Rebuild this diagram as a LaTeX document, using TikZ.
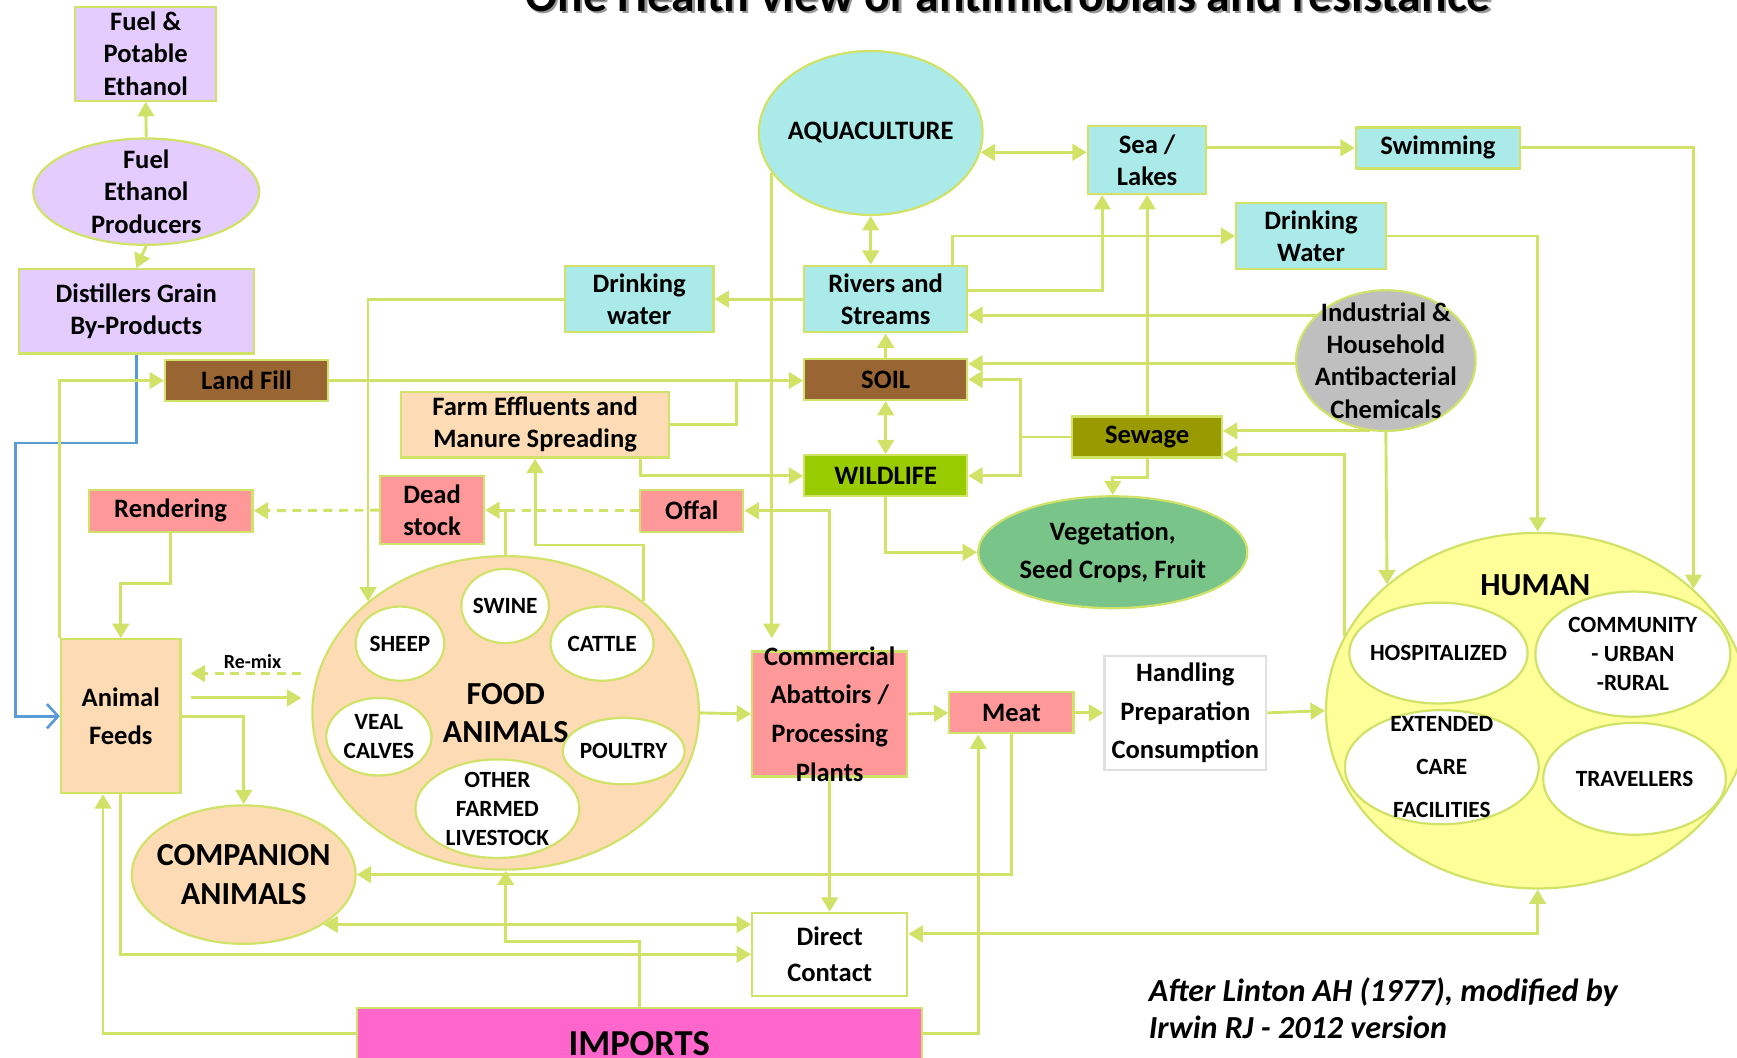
\documentclass[tikz,border=0pt]{standalone}
\usepackage{fontspec}
\setmainfont{Carlito}
\usetikzlibrary{arrows.meta,shapes.geometric}
\definecolor{lnk}{RGB}{209,226,105}
\definecolor{lav}{RGB}{229,204,255}
\definecolor{aquac}{RGB}{170,234,232}
\definecolor{soilc}{RGB}{153,102,51}
\definecolor{peach}{RGB}{253,219,180}
\definecolor{rosy}{RGB}{255,153,153}
\definecolor{olivec}{RGB}{153,153,0}
\definecolor{wildc}{RGB}{153,204,0}
\definecolor{vegc}{RGB}{121,197,137}
\definecolor{chem}{RGB}{191,191,191}
\definecolor{humc}{RGB}{255,255,153}
\definecolor{impc}{RGB}{255,102,204}
\definecolor{feedln}{RGB}{91,155,213}
\newcommand\fsz[2]{\bfseries\fontsize{#1}{#2}\selectfont}
\begin{document}
\begin{tikzpicture}[x=0.5pt,y=-0.5pt,
  box/.style={draw=lnk, line width=1pt, align=center, inner sep=-15pt, font=\fsz{12}{14.5}},
  oval/.style={box, ellipse},
  sub/.style={oval, fill=white, font=\fsz{10.5}{13}},
  link/.style={draw=lnk, line width=1.3pt, -{Triangle[length=6.5pt,width=7.5pt]}},
  both/.style={link, {Triangle[length=6.5pt,width=7.5pt]}-{Triangle[length=6.5pt,width=7.5pt]}},
  dlink/.style={link, dash pattern=on 4pt off 3pt},
  joint/.style={draw=lnk, line width=1.3pt},
  feedline/.style={draw=feedln, line width=1.2pt, -{Straight Barb[length=5pt,width=11pt]}}]
\useasboundingbox (0,0) rectangle (1568,955);
\clip (0,0) rectangle (1568,955);
\node[anchor=base, font=\fsz{21.5}{24}, text=black!40] (tshadow) at (912,12) {One Health view of antimicrobials and resistance};
\node[anchor=base, font=\fsz{21.5}{24}] (title) at (910,10) {One Health view of antimicrobials and resistance};
\node[box, fill=lav, minimum width=63.5pt, minimum height=42.5pt] (fuel) at (131.5,48.5) {Fuel \&\\Potable\\Ethanol};
\node[oval, fill=lav, minimum width=102pt, minimum height=48pt] (feth) at (132,173) {Fuel\\Ethanol\\Producers};
\node[box, fill=lav, minimum width=106pt, minimum height=38pt] (dist) at (123,281) {Distillers Grain\\By-Products};
\node[box, fill=soilc, minimum width=73.5pt, minimum height=18.5pt] (landfill) at (222.5,343.5) {Land Fill};
\node[box, fill=peach, minimum width=121pt, minimum height=29.5pt] (farm) at (483,383.5) {Farm Effluents and\\Manure Spreading};
\node[box, fill=aquac, minimum width=67pt, minimum height=30pt] (dwl) at (577,270) {Drinking\\water};
\node[oval, fill=aquac, minimum width=101pt, minimum height=74pt] (aqc) at (786,120) {AQUACULTURE};
\node[box, fill=aquac, minimum width=53.5pt, minimum height=30.5pt] (sea) at (1035.5,144.5) {Sea /\\Lakes};
\node[box, fill=aquac, minimum width=74pt, minimum height=18.5pt] (swim) at (1298,133.5) {Swimming};
\node[box, fill=aquac, minimum width=67.5pt, minimum height=30pt] (dwr) at (1183.5,213) {Drinking\\Water};
\node[box, fill=aquac, minimum width=73.5pt, minimum height=30pt] (riv) at (799.5,270) {Rivers and\\Streams};
\node[box, fill=soilc, minimum width=73.5pt, minimum height=18.5pt] (soil) at (799.5,342.5) {SOIL};
\node[oval, fill=chem, minimum width=81pt, minimum height=63.5pt] (ind) at (1251,325.5) {Industrial \&\\Household\\Antibacterial\\Chemicals};
\node[box, fill=olivec, minimum width=67.5pt, minimum height=18.5pt] (sew) at (1035.5,394.5) {Sewage};
\node[box, fill=wildc, minimum width=73.5pt, minimum height=18.5pt] (wild) at (799.5,429.5) {WILDLIFE};
\node[box, fill=rosy, minimum width=74pt, minimum height=19pt] (rend) at (154,461) {Rendering};
\node[box, fill=rosy, minimum width=47pt, minimum height=30.5pt] (dead) at (390,460.5) {Dead\\stock};
\node[box, fill=rosy, minimum width=46.5pt, minimum height=19pt] (offal) at (624.5,461) {Offal};
\node[oval, fill=vegc, minimum width=121.5pt, minimum height=50.5pt, font=\fsz{12}{17.5}] (veg) at (1004.5,498.5) {Vegetation,\\Seed Crops, Fruit};
\node[box, fill=peach, minimum width=54pt, minimum height=69.5pt, font=\fsz{12}{17}] (feeds) at (109,646.5) {Animal\\Feeds};
\node[oval, fill=peach, minimum width=174.5pt, minimum height=141.5pt, font=\fsz{14.5}{17}] (food) at (456.5,643.5) {FOOD\\ANIMALS};
\node[sub, minimum width=39.5pt, minimum height=33.5pt] (swine) at (456,547) {SWINE};
\node[sub, minimum width=40pt, minimum height=33.5pt] (sheep) at (361,581) {SHEEP};
\node[sub, minimum width=46.5pt, minimum height=33.5pt] (cattle) at (543.5,581) {CATTLE};
\node[sub, minimum width=47.5pt, minimum height=35pt] (veal) at (342,665) {VEAL\\CALVES};
\node[sub, minimum width=55pt, minimum height=30pt] (poultry) at (563,678) {POULTRY};
\node[sub, minimum width=74pt, minimum height=44.5pt] (other) at (449,730) {OTHER\\FARMED\\LIVESTOCK};
\node[oval, fill=peach, minimum width=101pt, minimum height=62.5pt, font=\fsz{14.5}{17.5}] (comp) at (220,789.5) {COMPANION\\ANIMALS};
\node[box, fill=rosy, minimum width=70pt, minimum height=56.5pt, font=\fsz{12}{17.5}] (abat) at (749,644.5) {Commercial\\Abattoirs /\\Processing\\Plants};
\node[box, fill=rosy, minimum width=56pt, minimum height=18.5pt] (meat) at (913,643.5) {Meat};
\node[box, fill=white, draw=black!12, minimum width=73pt, minimum height=51.5pt, font=\fsz{12}{17.5}] (hand) at (1070,643.5) {Handling\\Preparation\\Consumption};
\node[oval, fill=humc, minimum width=191pt, minimum height=160.5pt] (human) at (1388,641.5) {};
\node[font=\fsz{14.5}{17}] (hlab) at (1386,528) {HUMAN};
\node[sub, minimum width=80.5pt, minimum height=45.5pt] (hosp) at (1298.5,589.5) {HOSPITALIZED};
\node[sub, minimum width=88pt, minimum height=56.5pt] (comm) at (1474,590.5) {COMMUNITY\\- URBAN\\-RURAL};
\node[sub, minimum width=87.5pt, minimum height=51.5pt, font=\fsz{10.5}{19.5}] (ext) at (1301.5,692.5) {EXTENDED\\CARE\\FACILITIES};
\node[sub, minimum width=82.5pt, minimum height=50.5pt] (trav) at (1475.5,703) {TRAVELLERS};
\node[box, fill=white, minimum width=70pt, minimum height=37.5pt, font=\fsz{12}{16.5}] (dc) at (749,861.5) {Direct\\Contact};
\node[box, fill=impc, minimum width=255pt, minimum height=32.5pt, font=\fsz{16.5}{18}] (imp) at (577,942.5) {IMPORTS};
\node[font=\fsz{9}{11}] (remix) at (228,597) {Re-mix};
\node[anchor=west, align=left, font=\bfseries\itshape\fontsize{14.5}{17}\selectfont] (cite) at (1030,910) {After Linton AH (1977), modified by\\Irwin RJ - 2012 version};
\coordinate (sj) at (921,394.5);
\coordinate (fj) at (456.5,461);
\coordinate (rmA) at (272,608);
\coordinate (rmB) at (172,608);
\coordinate (rmC) at (172,630);
\coordinate (rmD) at (272,630);
\draw[link] (feth.north) -- (fuel.south);
\draw[link] (feth.south) -- (dist.north);
\draw[feedline] (dist.south) -- (123,400) -- (14,400) |- (feeds.west);
\draw[link] (feeds.north west) |- (landfill.west);
\draw[link] (landfill.east) -- (landfill.east -| soil.west);
\draw[joint] (farm.east) -| (665,343.5);
\draw[link] (farm.south -| 578,0) |- (wild.west);
\draw[link] (dwl.west) -| (food.141);
\draw[link] (riv.west) -- (dwl.east);
\draw[both] (aqc.south) -- (aqc.south |- riv.north);
\draw[both] (aqc.-10) -- (aqc.-10 -| sea.west);
\draw[link] (sea.east |- swim.west) -- (swim.west);
\draw[link] (swim.east) -| (human.38.4);
\draw[link] (dwr.east) -| (human.north);
\draw[link] (riv.north -| 860,0) |- (dwr.west);
\draw[link] (riv.east |- 0,262) -| (sea.south -| 995,0);
\draw[link] (ind.147) -- (ind.147 -| riv.east);
\draw[link] (ind.182) -- (ind.182 -| soil.east);
\draw[joint] (sew.west) -- (sj);
\draw[link] (sj) |- (soil.east);
\draw[link] (sj) |- (wild.east);
\draw[link] (sew.north) -- (sea.south);
\draw[link] (sew.south) -- (1035.5,431) -| (veg.north);
\draw[link] (ind.257) -- (ind.257 -| sew.east);
\draw[link] (ind.south) -- (human.140.8);
\draw[link] (human.159) |- (sew.east |- 0,410);
\draw[both] (wild.north) -- (soil.south);
\draw[link] (soil.north) -- (riv.south);
\draw[link] (wild.south) |- (veg.west);
\draw[link] (aqc.202.4) -- (aqc.202.4 |- 0,576);
\draw[link] (abat.north) |- (offal.east);
\draw[dlink, -] (offal.west) -- (fj);
\draw[link] (food.north) |- (dead.east);
\draw[dlink] (dead.west) -- (rend.east);
\draw[link] (food.39) |- (farm.south |- 0,492) -- (farm.south);
\draw[link] (rend.south) -- (154,527) -| (feeds.north);
\draw[link] (feeds.east) -| (comp.north);
\draw[link] (food.east) -- (abat.west);
\draw[link] (abat.east) -- (meat.west);
\draw[link] (meat.east) -- (hand.west);
\draw[link] (hand.east) -- (human.west);
\draw[link] (meat.south) |- (comp.east);
\draw[link] (abat.south) -- (dc.north);
\draw[both] (comp.-32) -- (comp.-32 -| dc.west);
\draw[link] (feeds.south) |- (dc.west);
\draw[link] (imp.north) -- (577,850) -| (food.south);
\draw[link] (imp.west |- 0,933) -| (feeds.south -| 93,0);
\draw[link] (imp.east |- 0,933) -| (meat.south -| 883,0);
\draw[both] (dc.east |- 0,843) -| (human.south);
\draw[dlink] (rmA) -- (rmB);
\draw[link] (rmC) -- (rmD);
\end{tikzpicture}
\end{document}
